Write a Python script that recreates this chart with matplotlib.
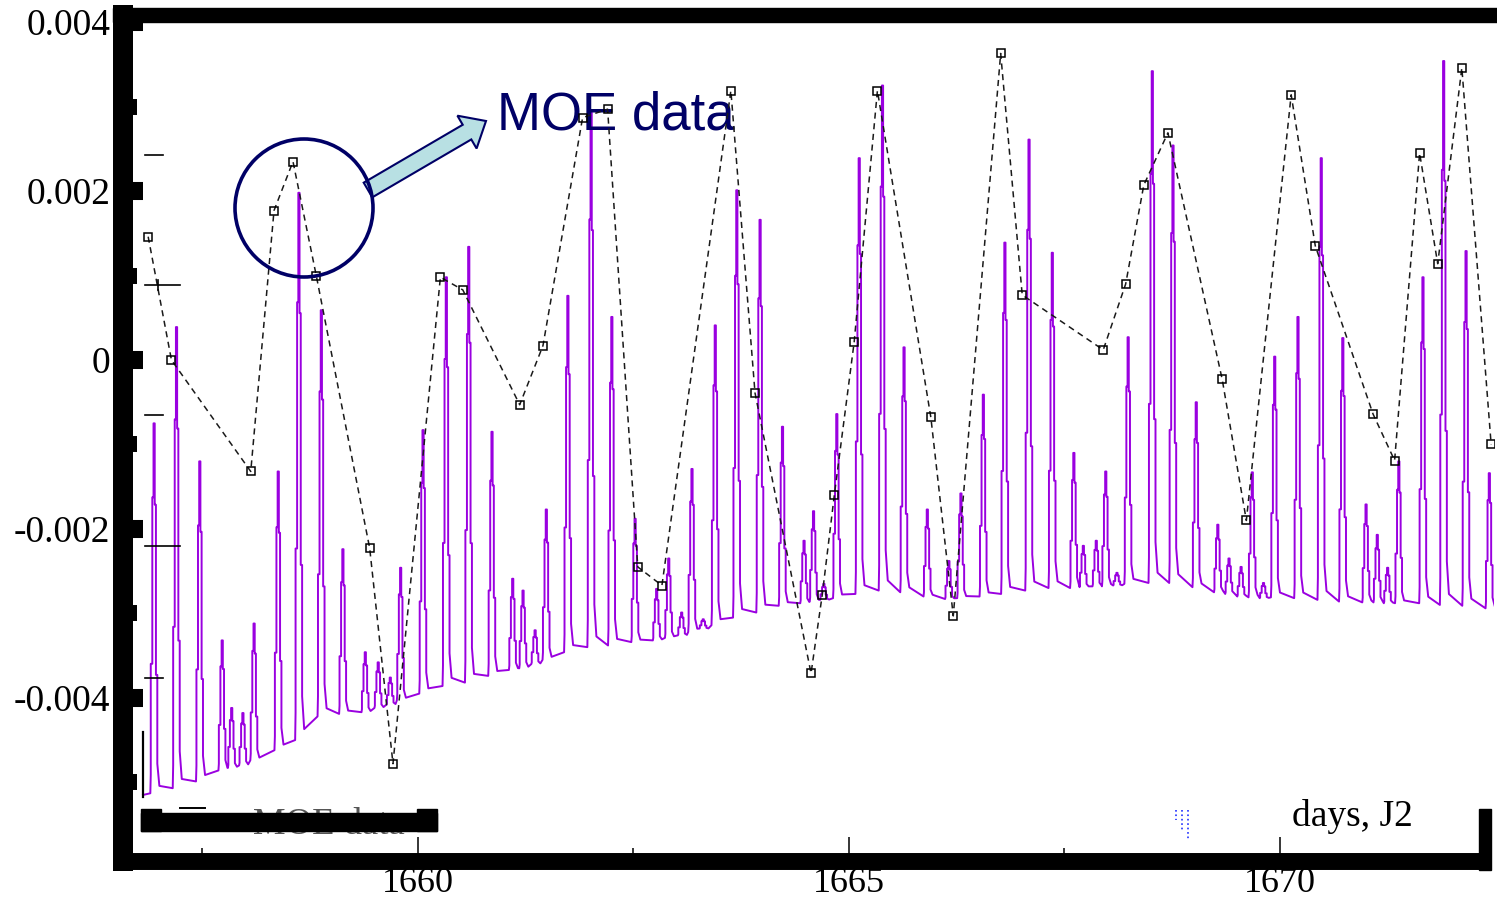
import numpy as np
import matplotlib
matplotlib.use("Agg")
import matplotlib.pyplot as plt
from matplotlib.patches import Circle, Rectangle, FancyArrow
from matplotlib.lines import Line2D
from matplotlib.transforms import IdentityTransform

plt.rcParams['font.family'] = ['Liberation Serif', 'DejaVu Serif']

# purple model curve: spike times (days), spike tops and the trough under each spike (x 1e-3)
spike_day = [1656.94, 1657.20, 1657.47, 1657.73, 1657.84, 1657.97, 1658.10, 1658.38, 1658.62, 1658.88,
             1659.13, 1659.39, 1659.54, 1659.68, 1659.80, 1660.06, 1660.33, 1660.59, 1660.86, 1661.10,
             1661.22, 1661.36, 1661.49, 1661.74, 1662.01, 1662.25, 1662.52, 1662.77, 1662.91, 1663.06,
             1663.18, 1663.31, 1663.45, 1663.70, 1663.97, 1664.23, 1664.48, 1664.59, 1664.71, 1664.86,
             1665.12, 1665.39, 1665.64, 1665.91, 1666.16, 1666.30, 1666.56, 1666.81, 1667.09, 1667.36,
             1667.61, 1667.72, 1667.87, 1667.98, 1668.11, 1668.24, 1668.52, 1668.76, 1669.03, 1669.28,
             1669.41, 1669.55, 1669.68, 1669.81, 1669.94, 1670.21, 1670.48, 1670.73, 1671.00, 1671.13,
             1671.25, 1671.38, 1671.66, 1671.90, 1672.16, 1672.43]
spike_top = [-0.75, 0.39, -1.20, -3.32, -4.12, -4.18, -3.12, -1.32, 1.98, 0.59,
             -2.24, -3.46, -3.58, -3.76, -2.46, -0.83, 0.98, 1.34, -0.85, -2.59,
             -2.73, -3.20, -1.77, 0.76, 2.93, 0.51, -1.88, -2.71, -2.35, -2.99,
             -1.29, -3.07, 0.41, 2.01, 1.66, -0.79, -2.14, -1.79, -2.65, -0.64,
             2.39, 3.25, 0.15, -1.77, -2.38, -1.58, -0.41, 1.39, 2.61, 1.27,
             -1.10, -2.20, -2.14, -1.32, -2.52, 0.27, 3.42, 2.54, -0.50, -1.95,
             -2.35, -2.45, -1.33, -2.64, 0.04, 0.51, 2.39, 0.26, -1.71, -2.07,
             -2.46, -1.20, 0.98, 3.54, 1.29, -1.34]
spike_base = [-5.13, -5.07, -4.99, -4.86, -4.83, -4.80, -4.74, -4.62, -4.50, -4.22,
              -4.19, -4.17, -4.12, -4.08, -4.03, -3.95, -3.86, -3.82, -3.74, -3.67,
              -3.65, -3.60, -3.55, -3.46, -3.40, -3.38, -3.34, -3.32, -3.29, -3.26,
              -3.22, -3.18, -3.14, -3.05, -2.99, -2.91, -2.88, -2.86, -2.84, -2.82,
              -2.77, -2.73, -2.75, -2.80, -2.83, -2.82, -2.80, -2.77, -2.73, -2.70,
              -2.70, -2.69, -2.68, -2.68, -2.67, -2.65, -2.64, -2.64, -2.69, -2.75,
              -2.77, -2.80, -2.81, -2.82, -2.81, -2.82, -2.84, -2.86, -2.87, -2.87,
              -2.88, -2.88, -2.88, -2.90, -2.91, -2.94]
start_day, start_val = 1656.81, -5.15

# MOE data (x 1e-3)
moe_day = [1656.87, 1657.14, 1658.06, 1658.33, 1658.55, 1658.82, 1659.44, 1659.71, 1660.26, 1660.52,
           1661.18, 1661.45, 1661.91, 1662.20, 1662.55, 1662.83, 1663.63, 1663.91, 1664.56, 1664.69,
           1664.83, 1665.06, 1665.33, 1665.95, 1666.21, 1666.76, 1667.01, 1667.95, 1668.21, 1668.42,
           1668.70, 1669.33, 1669.61, 1670.13, 1670.41, 1671.08, 1671.33, 1671.62, 1671.83, 1672.11,
           1672.45]
moe_val = [1.46, 0.0, -1.32, 1.77, 2.35, 1.00, -2.23, -4.78, 0.98, 0.83,
           -0.53, 0.17, 2.87, 2.97, -2.45, -2.67, 3.19, -0.39, -3.71, -2.78,
           -1.60, 0.21, 3.19, -0.68, -3.03, 3.63, 0.77, 0.12, 0.90, 2.07,
           2.69, -0.23, -1.90, 3.14, 1.35, -0.64, -1.19, 2.45, 1.14, 3.46,
           -1.00]

ytick_vals = [-0.004, -0.002, 0, 0.002, 0.004]
ytick_labels = ['-0.004', '-0.002', '0', '0.002', '0.004']
xtick_vals = [1660, 1665, 1670]

W, H = 1497, 902
ident = IdentityTransform()

fig = plt.figure(figsize=(W / 100, H / 100), dpi=100)
ax = fig.add_axes([123 / W, (H - 861) / H, (1494 - 123) / W, (861 - 15) / H])
ax.set_xlim(1656.578, 1672.483)
ax.set_ylim(-5.932e-3, 4.085e-3)

# spike outline shape: (day offset, fraction of spike height)
shape = [(-0.045, 0.0), (-0.04, 0.05), (-0.04, 0.35), (-0.022, 0.35), (-0.022, 0.8),
         (-0.008, 0.8), (-0.008, 1.0), (0.006, 1.0), (0.006, 0.78), (0.02, 0.78),
         (0.02, 0.32), (0.036, 0.32), (0.036, 0.08), (0.06, 0.02)]
xs, ys = [start_day], [start_val * 1e-3]
for c, top, base in zip(spike_day, spike_top, spike_base):
    for dx, f in shape:
        xs.append(c + dx)
        ys.append((base + f * (top - base)) * 1e-3)
ax.plot(xs, ys, color='#9a00e0', lw=1.4, zorder=2)

ax.plot(moe_day, np.array(moe_val) * 1e-3, color='#1a1a1a', lw=1.1, dashes=(4, 3),
        marker='s', ms=6, mfc='none', mec='black', mew=1.1, zorder=4)

# frame
for s in ['top', 'right']:
    ax.spines[s].set_visible(False)
ax.spines['left'].set_linewidth(14.4)
ax.spines['bottom'].set_linewidth(12.2)
for s in ['left', 'bottom']:
    ax.spines[s].set_capstyle('projecting')
ax.spines['bottom'].set_bounds(1656.578, 1672.355)

ax.set_yticks(ytick_vals)
ax.set_yticklabels(ytick_labels)
ax.set_yticks([-0.005, -0.003, -0.001, 0.001, 0.003], minor=True)
ax.set_xticks(xtick_vals)
ax.set_xticklabels([str(v) for v in xtick_vals])
ax.set_xticks([1657.5, 1662.5, 1667.5], minor=True)
ax.tick_params(axis='y', which='major', direction='in', length=14.4, width=13, pad=9, labelsize=27)
ax.tick_params(axis='y', which='minor', direction='in', length=10, width=11.5)
ax.tick_params(axis='x', which='major', direction='in', length=17.3, width=1.1, pad=4, labelsize=26)
ax.tick_params(axis='x', which='minor', direction='in', length=9.4, width=1.1)

# annotation
ax.add_patch(FancyArrow(368, H - 190, 486 - 368, (H - 121) - (H - 190), width=17, head_width=38,
                        head_length=22, length_includes_head=True, fc='#b8e0e3', ec='#000066',
                        lw=1.5, transform=ident, clip_on=False, zorder=5))
ax.add_patch(Circle((304, H - 208), 69, fill=False, ec='#000066', lw=2.6,
                    transform=ident, clip_on=False, zorder=6))
ax.text(497, H - 130, 'MOE data', transform=ident, fontsize=38, family='Liberation Sans',
        color='#000066', ha='left', va='baseline', zorder=3)

# leftover pieces of the original slide
fig.text(253, H - 834, 'MOE data', transform=ident, fontsize=26.4, color='#555555', zorder=1)
for x0, y0, w, h in [(113, 8, 1384, 14), (1479, 809, 12, 61), (141, 813, 296, 18),
                     (141, 809, 20, 22), (417, 809, 20, 22)]:
    fig.add_artist(Rectangle((x0, H - y0 - h), w, h, transform=ident, color='black', zorder=2))
for y, x1 in [(22, 180), (155, 163), (285, 180), (415, 163), (546, 180), (678, 163)]:
    fig.add_artist(Line2D([145, x1], [H - y, H - y], transform=ident, color='black', lw=1.2, zorder=3))
fig.add_artist(Line2D([158, 158], [H - 280, H - 290], transform=ident, color='black', lw=1.2))
fig.add_artist(Line2D([143, 143], [H - 732, H - 797], transform=ident, color='black', lw=1.6))
fig.add_artist(Line2D([180, 205], [H - 808, H - 808], transform=ident, color='black', lw=1.4))
for x, y1 in [(1176, 820), (1182, 832), (1188, 840)]:
    fig.add_artist(Line2D([x, x], [H - 810, H - y1], transform=ident, color='#2030ff', lw=1.2, ls=':'))
fig.text(1292, H - 826, 'days, J2', transform=ident, fontsize=27, color='black')

fig.savefig('out.png', dpi=100)
